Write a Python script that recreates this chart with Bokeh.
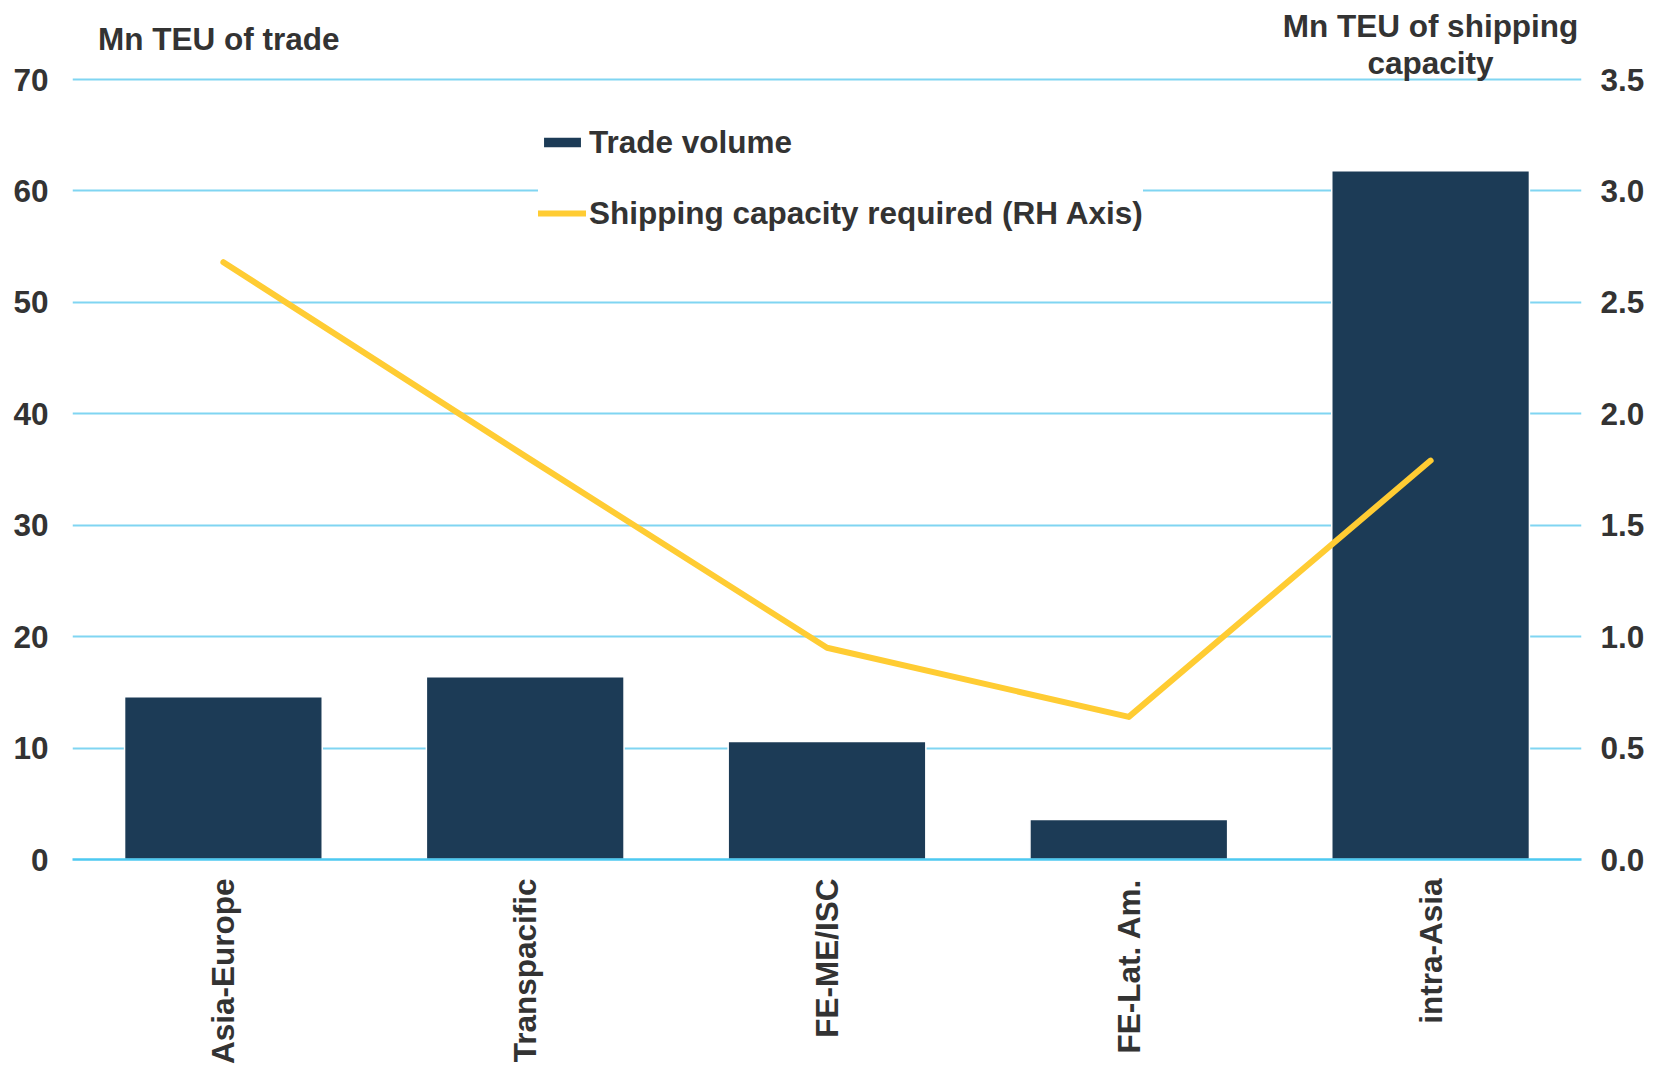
import math
from bokeh.plotting import figure
from bokeh.models import (ColumnDataSource, Range1d, LinearAxis, FactorRange, Label,
                          Legend, LegendItem, FixedTicker, NumeralTickFormatter)
from bokeh.embed import file_html
from bokeh.resources import INLINE

categories = ["Asia-Europe", "Transpacific", "FE-ME/ISC", "FE-Lat. Am.", "intra-Asia"]
trade_volume = [14.6, 16.4, 10.6, 3.6, 61.8]
shipping_capacity = [2.68, 1.81, 0.95, 0.64, 1.79]
left_ticks = [0, 10, 20, 30, 40, 50, 60, 70]
right_ticks = [0.0, 0.5, 1.0, 1.5, 2.0, 2.5, 3.0, 3.5]

FONT = "Liberation Sans"
FS = "31.5px"
TEXT = "#333333"
BAR = "#1C3B56"
LINE = "#FFCC33"
GRID = "#80D5F2"
ZERO = "#4DC9F1"

src = ColumnDataSource(dict(cat=categories, vol=trade_volume, cap=shipping_capacity))

W, H = 1671, 1067
ML, MR, MT, MB = 72, 90, 0, 208
# frame spans the whole height above the bottom axis; the 70 / 3.5 gridline sits 79px below the top
frame_h = H - MB
ext = frame_h / (frame_h - 79.0)

p = figure(width=W, height=H, x_range=FactorRange(factors=categories, range_padding=0),
           y_range=Range1d(0, 70 * ext), output_backend="svg", toolbar_location=None,
           min_border_left=ML, min_border_right=MR, min_border_top=MT, min_border_bottom=MB)
p.extra_y_ranges = {"cap": Range1d(0, 3.5 * ext)}
p.outline_line_color = None
p.background_fill_color = "white"
p.border_fill_color = "white"

p.xgrid.grid_line_color = None
p.ygrid.ticker = FixedTicker(ticks=left_ticks)
p.ygrid.grid_line_color = GRID
p.ygrid.grid_line_width = 2

def style_axis(ax, standoff):
    ax.major_label_text_font = FONT
    ax.major_label_text_font_size = FS
    ax.major_label_text_font_style = "bold"
    ax.major_label_text_color = TEXT
    ax.major_tick_line_color = None
    ax.minor_tick_line_color = None
    ax.major_tick_out = 0
    ax.major_tick_in = 0
    ax.minor_tick_out = 0
    ax.minor_tick_in = 0
    ax.major_label_standoff = standoff

ly = p.yaxis[0]
ly.ticker = FixedTicker(ticks=left_ticks)
ly.axis_line_color = None
style_axis(ly, 24)

bx = p.xaxis[0]
bx.axis_line_color = ZERO
bx.axis_line_width = 2.5
bx.major_label_orientation = math.pi / 2
style_axis(bx, 19)

ry = LinearAxis(y_range_name="cap", ticker=FixedTicker(ticks=right_ticks),
                formatter=NumeralTickFormatter(format="0.0"))
ry.axis_line_color = None
style_axis(ry, 19)
p.add_layout(ry, "right")

bars = p.vbar(x="cat", top="vol", width=0.655, source=src, fill_color=BAR,
              line_color="white", line_width=1.5)
ln = p.line(x="cat", y="cap", source=src, y_range_name="cap", line_color=LINE,
            line_width=6, line_join="round", line_cap="round")

legend = Legend(items=[LegendItem(label="Trade volume", renderers=[bars]),
                       LegendItem(label="Shipping capacity required (RH Axis)", renderers=[ln])],
                location=(466, 625))
legend.label_text_font = FONT
legend.label_text_font_size = FS
legend.label_text_font_style = "bold"
legend.label_text_color = TEXT
legend.glyph_width = 48
legend.glyph_height = 14
legend.label_height = 42
legend.label_standoff = 3
legend.spacing = 29
legend.padding = 18
legend.border_line_color = None
legend.background_fill_color = "white"
legend.background_fill_alpha = 1.0
p.add_layout(legend)

def add_label(text, x, y, align):
    lab = Label(x=x, y=y, x_units="screen", y_units="screen", text=text,
                text_font=FONT, text_font_size=FS, text_font_style="bold",
                text_color=TEXT, text_align=align, text_baseline="middle")
    p.add_layout(lab)

add_label("Mn TEU of trade", 25.5, 820.6, "left")
add_label("Mn TEU of shipping", 1358, 833.4, "center")
add_label("capacity", 1358, 797, "center")

open("out.html", "w").write(file_html(p, INLINE))
